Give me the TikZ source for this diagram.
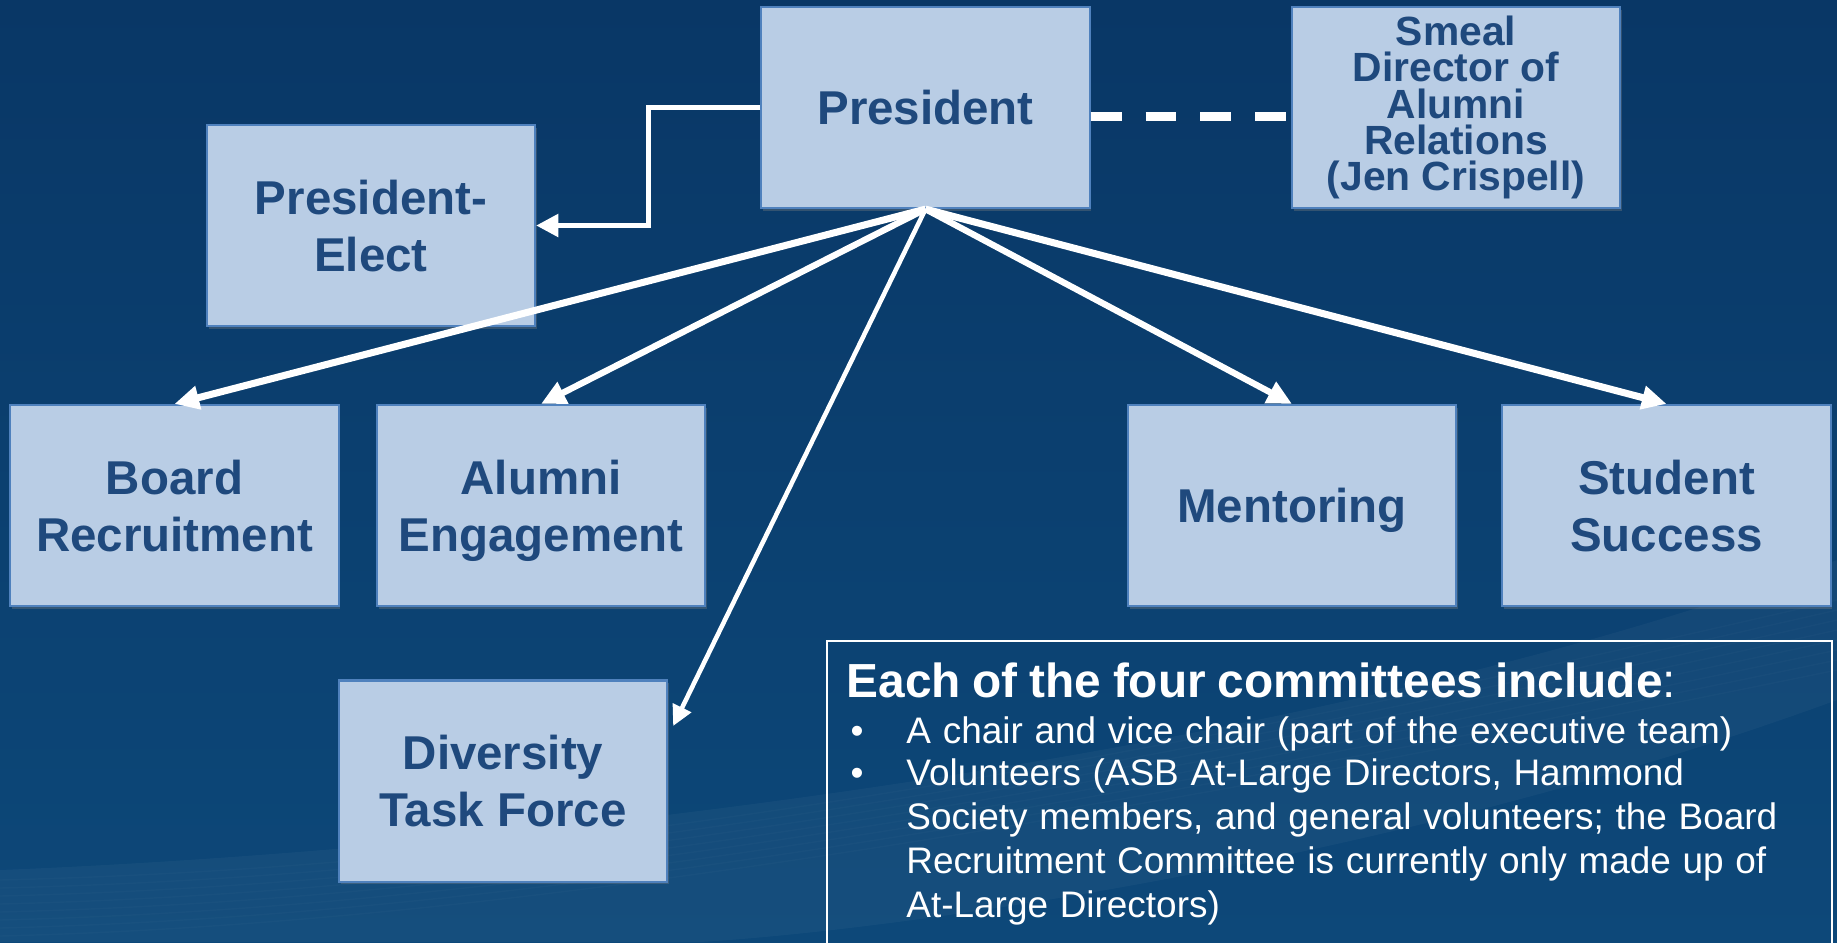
\documentclass[tikz,border=0pt]{standalone}
\usepackage{fontspec}
\setmainfont{Liberation Sans}
\usetikzlibrary{arrows.meta,calc,shadows}

\definecolor{bgtop}{HTML}{093766}
\definecolor{bgbottom}{HTML}{0D4879}
\definecolor{boxfill}{HTML}{B9CDE5}
\definecolor{boxline}{HTML}{4F81BD}
\definecolor{boxtext}{HTML}{1F497D}

\newcommand\noteitem[1]{\par\noindent\makebox[17pt][l]{\hspace{1.1pt}\textbullet}\parbox[t]{9.2cm}{\raggedright#1}}

\begin{document}
\begin{tikzpicture}[x=0.01cm, y=-0.01cm,
    unit/.style={draw=boxline, fill=boxfill, line width=0.6pt, inner sep=0pt,
      minimum width=3.28cm, minimum height=2.01cm, align=center, text=boxtext,
      font=\fontsize{13.5}{16.2}\selectfont\bfseries, text depth=0pt,
      drop shadow={shadow xshift=0.5pt, shadow yshift=-0.8pt, opacity=0.35}},
    smallunit/.style={unit, font=\fontsize{11.6}{10.3}\selectfont\bfseries, text depth={}},
    fan/.style={white, line width=#1, -{Triangle[length=7pt, width=6.5pt]}},
    noteframe/.style={draw=white, line width=0.6pt, minimum width=10.04cm, minimum height=3.4cm, inner sep=0pt},
    notetext/.style={text=white, text width=9.76cm, align=left, inner sep=0pt}]

    % Draw Background
    \useasboundingbox (0,0) rectangle (1837,942);
    \clip (0,0) rectangle (1837,942);
    \shade[top color=bgtop, bottom color=bgbottom] (0,0) rectangle (1837,942);
    \fill[white, opacity=0.035] (0,870) .. controls (500,850) and (1300,760) .. (1837,560)
        -- (1837,700) .. controls (1400,860) and (900,930) .. (700,942) -- (0,942) -- cycle;
    \foreach \k in {0, ..., 7}{
      \draw[white, opacity=0.02, line width=0.4pt] (0,{880+8*\k}) .. controls (400,{870+8*\k}) and (900,{820+6*\k}) .. (1837,{600+10*\k});
    }

    % Draw Boxes
    \node[unit] (pres) at (925.5,107.5) {President};
    \node[smallunit] (smeal) at (1456,107.5) {Smeal\\Director of\\Alumni\\Relations\\(Jen Crispell)};
    \node[unit] (elect) at (371,225.5) {President-\\Elect};
    \node[unit] (board) at (174.5,505.5) {Board\\Recruitment};
    \node[unit] (engage) at (541,505.5) {Alumni\\Engagement};
    \node[unit] (mentor) at (1292,505.5) {Mentoring};
    \node[unit] (success) at (1666.5,505.5) {Student\\Success};
    \node[unit] (divers) at (503,781) {Diversity\\Task Force};
    \coordinate (divtip) at ($(divers.east)+(5,-55)$);

    % Draw Connectors
    \draw[white, line width=1.4pt, -{Triangle[length=6.3pt, width=6.3pt]}] (pres.west) -- ++(-112,0) |- (elect.east);
    \draw[white, line width=2.3pt, dash pattern=on 8.8pt off 6.8pt] ([yshift=-0.09cm]pres.east) -- ([yshift=-0.09cm]smeal.west);
    \draw[fan=2pt] (pres.south) -- (board.north);
    \draw[fan=1.8pt] (pres.south) -- (engage.north);
    \draw[white, line width=1.3pt, -{Triangle[length=5.8pt, width=5.6pt]}] (pres.south) -- (divtip);
    \draw[fan=1.8pt] (pres.south) -- (mentor.north);
    \draw[fan=2pt] (pres.south) -- (success.north);

    % Draw Note
    \node[noteframe, anchor=north west] (frame) at (826,640) {};
    \node[notetext, anchor=base west] (note) at (846,697) {%
      {\fontsize{13.6}{16}\selectfont\textbf{Each of the four committees include}:}\par
      \fontsize{10.5}{12.5}\selectfont\vspace{0.8pt}%
      \noteitem{A chair and vice chair (part of the executive team)}
      \noteitem{Volunteers (ASB At-Large Directors, Hammond\\ Society members, and general volunteers; the Board\\ Recruitment Committee is currently only made up of\\ At-Large Directors)}};
\end{tikzpicture}
\end{document}
